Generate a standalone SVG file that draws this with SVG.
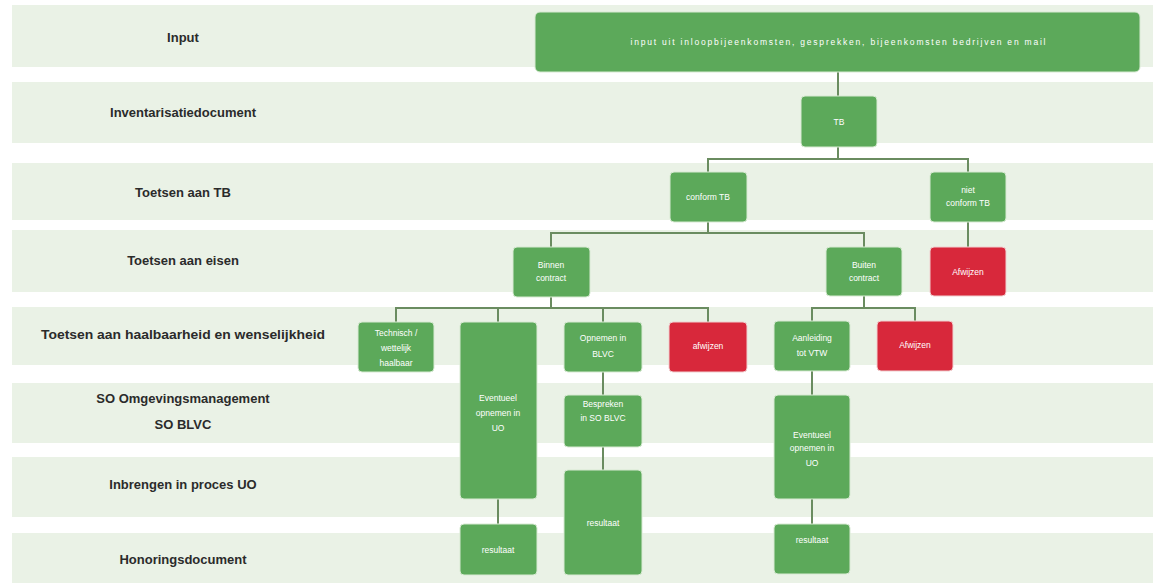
<svg xmlns="http://www.w3.org/2000/svg" width="1153" height="585" viewBox="0 0 1153 585">
<style>
.band{fill:#eaf2e6}
.lbl{font-family:"Liberation Sans",Arial,sans-serif;font-weight:bold;font-size:13px;fill:#2b2b2b;text-anchor:middle}
.g{fill:#5ca95a;stroke:#d8ead3;stroke-width:1}
.r{fill:#d8283b;stroke:#f0d0d0;stroke-width:1}
.t{font-family:"Liberation Sans",Arial,sans-serif;font-size:8.5px;fill:#ffffff;text-anchor:middle}
.c{fill:none;stroke:#6a8c60;stroke-width:2}
</style>
<rect width="1153" height="585" fill="#ffffff"/>
<g id="bands">
<rect class="band" x="12" y="5" width="1141" height="62"/>
<rect class="band" x="12" y="82" width="1141" height="61"/>
<rect class="band" x="12" y="163" width="1141" height="57"/>
<rect class="band" x="12" y="230" width="1141" height="62"/>
<rect class="band" x="12" y="307" width="1141" height="58"/>
<rect class="band" x="12" y="383" width="1141" height="60"/>
<rect class="band" x="12" y="457" width="1141" height="60"/>
<rect class="band" x="12" y="533" width="1141" height="50"/>
</g>
<g id="labels">
<text class="lbl" x="183" y="42">Input</text>
<text class="lbl" x="183" y="117">Inventarisatiedocument</text>
<text class="lbl" x="183" y="197">Toetsen aan TB</text>
<text class="lbl" x="183" y="265">Toetsen aan eisen</text>
<text class="lbl" x="183" y="339" textLength="284" lengthAdjust="spacingAndGlyphs">Toetsen aan haalbaarheid en wenselijkheid</text>
<text class="lbl" x="183" y="403">SO Omgevingsmanagement</text>
<text class="lbl" x="183" y="429">SO BLVC</text>
<text class="lbl" x="183" y="489">Inbrengen in proces UO</text>
<text class="lbl" x="183" y="564">Honoringsdocument</text>
</g>
<g id="connectors">
<path class="c" d="M838 72V96"/>
<path class="c" d="M838 147V159"/>
<path class="c" d="M708 172V159H968V172"/>
<path class="c" d="M708 222V233"/>
<path class="c" d="M551 247V233H864V247"/>
<path class="c" d="M968 222V247"/>
<path class="c" d="M551 297V308"/>
<path class="c" d="M396 322V308H708V322"/>
<path class="c" d="M498 308V322"/>
<path class="c" d="M603 308V322"/>
<path class="c" d="M864 296V308"/>
<path class="c" d="M812 321V308H915V321"/>
<path class="c" d="M498 499V524"/>
<path class="c" d="M603 372V395"/>
<path class="c" d="M603 447V470"/>
<path class="c" d="M812 371V395"/>
<path class="c" d="M812 499V524"/>
</g>
<g id="n-input"><rect class="g" x="535" y="12" width="605" height="60" rx="5"/><text class="t" x="838" y="45" font-size="9" textLength="415" lengthAdjust="spacing">input uit inloopbijeenkomsten, gesprekken, bijeenkomsten bedrijven en mail</text></g>
<g id="n-tb"><rect class="g" x="801" y="96" width="76" height="51" rx="4"/><text class="t" x="839" y="125">TB</text></g>
<g id="n-conform"><rect class="g" x="670" y="172" width="77" height="50" rx="4"/><text class="t" x="708" y="200">conform TB</text></g>
<g id="n-nietconform"><rect class="g" x="930" y="172" width="76" height="50" rx="4"/><text class="t" x="968" y="193">niet</text><text class="t" x="968" y="206">conform TB</text></g>
<g id="n-binnen"><rect class="g" x="513" y="247" width="77" height="50" rx="4"/><text class="t" x="551" y="268">Binnen</text><text class="t" x="551" y="281">contract</text></g>
<g id="n-buiten"><rect class="g" x="826" y="247" width="76" height="49" rx="4"/><text class="t" x="864" y="268">Buiten</text><text class="t" x="864" y="281">contract</text></g>
<g id="n-afwijzen1"><rect class="r" x="930" y="247" width="76" height="49" rx="4"/><text class="t" x="968" y="275">Afwijzen</text></g>
<g id="n-technisch"><rect class="g" x="358" y="322" width="76" height="50" rx="4"/><text class="t" x="396" y="336">Technisch /</text><text class="t" x="396" y="351">wettelijk</text><text class="t" x="396" y="366">haalbaar</text></g>
<g id="n-eventueel1"><rect class="g" x="460" y="322" width="77" height="177" rx="4"/><text class="t" x="498" y="401">Eventueel</text><text class="t" x="498" y="416">opnemen in</text><text class="t" x="498" y="431">UO</text></g>
<g id="n-opnemen"><rect class="g" x="564" y="322" width="78" height="50" rx="4"/><text class="t" x="603" y="341">Opnemen in</text><text class="t" x="603" y="357">BLVC</text></g>
<g id="n-afwijzen2"><rect class="r" x="669" y="322" width="78" height="50" rx="4"/><text class="t" x="708" y="349">afwijzen</text></g>
<g id="n-aanleiding"><rect class="g" x="774" y="321" width="76" height="50" rx="4"/><text class="t" x="812" y="341">Aanleiding</text><text class="t" x="812" y="356">tot VTW</text></g>
<g id="n-afwijzen3"><rect class="r" x="877" y="321" width="76" height="50" rx="4"/><text class="t" x="915" y="348">Afwijzen</text></g>
<g id="n-bespreken"><rect class="g" x="564" y="395" width="78" height="52" rx="4"/><text class="t" x="603" y="407">Bespreken</text><text class="t" x="603" y="421">in SO BLVC</text></g>
<g id="n-eventueel2"><rect class="g" x="774" y="395" width="76" height="104" rx="4"/><text class="t" x="812" y="438">Eventueel</text><text class="t" x="812" y="451">opnemen in</text><text class="t" x="812" y="466">UO</text></g>
<g id="n-resultaat1"><rect class="g" x="460" y="524" width="77" height="51" rx="4"/><text class="t" x="498" y="553">resultaat</text></g>
<g id="n-resultaat2"><rect class="g" x="564" y="470" width="78" height="105" rx="4"/><text class="t" x="603" y="526">resultaat</text></g>
<g id="n-resultaat3"><rect class="g" x="774" y="524" width="76" height="50" rx="4"/><text class="t" x="812" y="543">resultaat</text></g>
</svg>
